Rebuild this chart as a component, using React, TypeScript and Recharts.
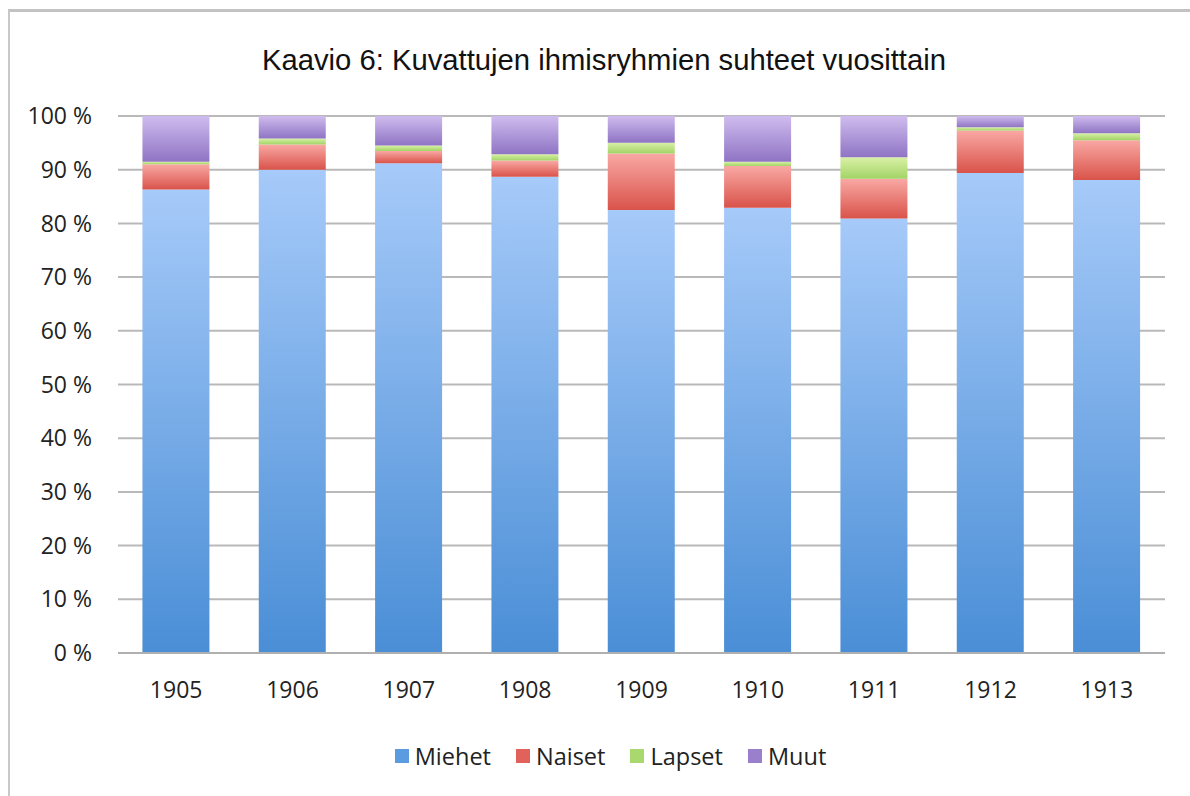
import React from "react";
import { BarChart, Bar, XAxis, YAxis, CartesianGrid } from "recharts";

const years = ["1905", "1906", "1907", "1908", "1909", "1910", "1911", "1912", "1913"];
const miehet = [86.3, 90.0, 91.2, 88.7, 82.5, 82.9, 80.9, 89.4, 88.1];
const naiset = [4.7, 4.7, 2.3, 3.0, 10.5, 7.8, 7.4, 7.9, 7.4];
const lapset = [0.5, 1.1, 1.0, 1.2, 2.0, 0.8, 4.0, 0.6, 1.3];
const muut = [8.5, 4.2, 5.5, 7.1, 5.0, 8.5, 7.7, 2.1, 3.2];
const yTicks = [0, 10, 20, 30, 40, 50, 60, 70, 80, 90, 100];
const title = "Kaavio 6: Kuvattujen ihmisryhmien suhteet vuosittain";

const series = [
  { key: "Miehet", top: "#a6caf9", bottom: "#4a8ed6", swatch: "#5b9be0" },
  { key: "Naiset", top: "#f9a8a4", bottom: "#d9534a", swatch: "#e0625a" },
  { key: "Lapset", top: "#d8f1a6", bottom: "#a2d366", swatch: "#a9d86e" },
  { key: "Muut", top: "#cfbcee", bottom: "#8f74c4", swatch: "#9a80cc" },
];

const data = years.map((y, i) => ({
  year: y,
  Miehet: miehet[i],
  Naiset: naiset[i],
  Lapset: lapset[i],
  Muut: muut[i],
}));

const FONT = "'Open Sans', sans-serif";

export default function App() {
  return (
    <div style={{ position: "absolute", left: 0, top: 0, width: 1190, height: 796, background: "#fff", overflow: "hidden" }}>
      <div
        style={{
          position: "absolute",
          left: 8,
          top: 9,
          width: 1200,
          height: 800,
          borderTop: "3px solid #c2c2c2",
          borderLeft: "2px solid #c8c8c8",
        }}
      />
      <svg style={{ position: "absolute", left: 0, top: 0 }} width={1190} height={120}>
        <text
          x={604}
          y={70}
          textAnchor="middle"
          fontFamily="'Liberation Sans', Arial, sans-serif"
          fontSize={29}
          fill="#111"
          textLength={684}
          lengthAdjust="spacingAndGlyphs"
        >
          {title}
        </text>
      </svg>
      <div style={{ position: "absolute", left: 0, top: 0 }}>
        <BarChart
          width={1190}
          height={796}
          data={data}
          margin={{ top: 116, right: 25, bottom: 93, left: 18 }}
          barCategoryGap="21%"
        >
          <defs>
            {series.map((s) => (
              <linearGradient key={s.key} id={"g" + s.key} x1="0" y1="0" x2="0" y2="1">
                <stop offset="0%" stopColor={s.top} />
                <stop offset="100%" stopColor={s.bottom} />
              </linearGradient>
            ))}
          </defs>
          <CartesianGrid vertical={false} stroke="#b9b9b9" strokeWidth={2} />
          <XAxis
            dataKey="year"
            height={50}
            tickLine={false}
            tickSize={0}
            tickMargin={29}
            axisLine={{ stroke: "#b0b0b0", strokeWidth: 2 }}
            tick={{ fontFamily: FONT, fontSize: 23, fill: "#222" }}
          />
          <YAxis
            width={100}
            domain={[0, 100]}
            ticks={yTicks}
            interval={0}
            tickFormatter={(v) => `${v} %`}
            axisLine={false}
            tickLine={false}
            tickSize={0}
            tickMargin={26}
            tick={{ fontFamily: FONT, fontSize: 23, fill: "#222" }}
          />
          {series.map((s) => (
            <Bar key={s.key} dataKey={s.key} stackId="a" fill={`url(#g${s.key})`} isAnimationActive={false} />
          ))}
        </BarChart>
      </div>
      <div
        style={{
          position: "absolute",
          left: 0,
          width: 1221,
          top: 741,
          display: "flex",
          justifyContent: "center",
          alignItems: "center",
          gap: 25,
          fontFamily: FONT,
          fontSize: 23.5,
          color: "#222",
          lineHeight: "30px",
        }}
      >
        {series.map((s) => (
          <div key={s.key} style={{ display: "flex", alignItems: "center" }}>
            <div style={{ width: 14, height: 14, background: s.swatch, marginRight: 6 }} />
            <span>{s.key}</span>
          </div>
        ))}
      </div>
    </div>
  );
}
